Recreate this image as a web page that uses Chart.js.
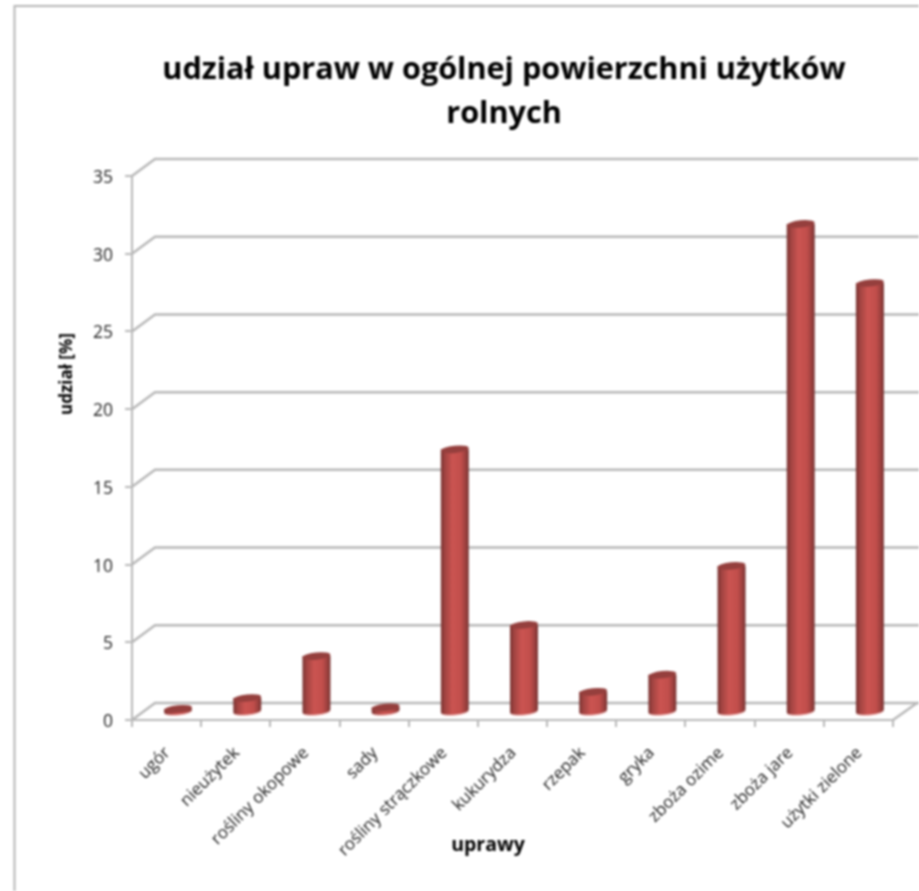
<!DOCTYPE html>
<html>
<head>
<meta charset="utf-8">
<script src="https://cdn.jsdelivr.net/npm/chart.js@4"></script>
<style>
  html, body { margin: 0; padding: 0; background: #fff; }
  #wrap { width: 919px; height: 891px; position: relative; }
  canvas { filter: blur(0.8px); }
</style>
</head>
<body>
<div id="wrap"><canvas id="udzial" width="919" height="891"></canvas></div>
<script>
const categories = ['ugór', 'nieużytek', 'rośliny okopowe', 'sady', 'rośliny strączkowe', 'kukurydza', 'rzepak', 'gryka', 'zboża ozime', 'zboża jare', 'użytki zielone'];
const shares = [0.2, 0.9, 3.6, 0.3, 16.9, 5.6, 1.3, 2.4, 9.4, 31.4, 27.6];
const titleLines = ['udział upraw w ogólnej powierzchni użytków', 'rolnych'];
const xTitle = 'uprawy';
const yTitle = 'udział [%]';
const yTicks = [0, 5, 10, 15, 20, 25, 30, 35];

const FONT = '"Open Sans", sans-serif';
const GRID = '#b8b8b8';
const TEXT = '#222';

// the walls of the fake 3d box
const depthX = 23, depthY = -17;
// bars stand half way into the box
const barX = 11.5, barY = -8;

// cylinder instead of the flat rectangle
Chart.BarElement.prototype.draw = function (ctx) {
  const cx = this.x + barX;
  const top = this.y + barY;
  const base = this.base + barY;
  const rx = this.width / 2, ry = 3.6, tilt = -0.1;

  const side = ctx.createLinearGradient(cx - rx, 0, cx + rx, 0);
  side.addColorStop(0, '#763230');
  side.addColorStop(0.14, '#a04341');
  side.addColorStop(0.42, '#cb5451');
  side.addColorStop(0.72, '#c14e4b');
  side.addColorStop(0.9, '#983f3d');
  side.addColorStop(1, '#73302f');

  ctx.save();
  // base
  ctx.fillStyle = '#f3c9c7';
  ctx.beginPath();
  ctx.ellipse(cx, base + 1.2, rx, ry, tilt, 0, Math.PI * 2);
  ctx.fill();
  ctx.fillStyle = side;
  ctx.beginPath();
  ctx.ellipse(cx, base, rx, ry, tilt, 0, Math.PI);
  ctx.lineTo(cx - rx, top);
  ctx.lineTo(cx + rx, top);
  ctx.closePath();
  ctx.fill();
  // top cap
  ctx.fillStyle = '#953f3d';
  ctx.beginPath();
  ctx.ellipse(cx, top, rx, ry, tilt, 0, Math.PI * 2);
  ctx.fill();
  ctx.restore();
};

const boxPlugin = {
  id: 'box',
  afterLayout(chart) {
    // title sits a bit left of the plot centre
    chart.titleBlock.left = 89;
    chart.titleBlock.right = 919;
  },
  beforeDatasetsDraw(chart) {
    const { ctx, scales } = chart;
    const left = scales.y.left + scales.y.width;
    const right = scales.x.right;
    ctx.save();
    // frame of the picture
    ctx.strokeStyle = '#b5b5b5';
    ctx.lineWidth = 2;
    ctx.beginPath();
    ctx.moveTo(14.5, 891);
    ctx.lineTo(14.5, 6);
    ctx.lineTo(919, 6);
    ctx.stroke();
    // wall lines
    ctx.strokeStyle = GRID;
    ctx.lineWidth = 2.5;
    scales.y.ticks.forEach((t) => {
      const y = scales.y.getPixelForValue(t.value);
      ctx.beginPath();
      ctx.moveTo(left, y);
      ctx.lineTo(left + depthX, y + depthY);
      ctx.lineTo(919, y + depthY);
      ctx.stroke();
    });
    // floor edge on the right
    const y0 = scales.y.getPixelForValue(0);
    ctx.beginPath();
    ctx.moveTo(right, y0);
    ctx.lineTo(right + depthX + 1, y0 + depthY);
    ctx.stroke();
    ctx.restore();
  },
  afterDraw(chart) {
    const { ctx } = chart;
    ctx.save();
    ctx.fillStyle = '#000';
    ctx.textAlign = 'center';
    ctx.textBaseline = 'middle';
    ctx.font = 'bold 19.5px ' + FONT;
    ctx.fillText(xTitle, 488, 845);
    ctx.font = 'bold 17px ' + FONT;
    ctx.translate(67, 374);
    ctx.rotate(-Math.PI / 2);
    ctx.fillText(yTitle, 0, 0);
    ctx.restore();
  }
};

new Chart(document.getElementById('udzial'), {
  type: 'bar',
  data: {
    labels: categories,
    datasets: [{
      label: 'udział',
      data: shares,
      backgroundColor: '#c0504d',
      barThickness: 28
    }]
  },
  plugins: [boxPlugin],
  options: {
    responsive: false,
    animation: false,
    layout: { padding: { right: 26 } },
    plugins: {
      legend: { display: false },
      tooltip: { enabled: false },
      title: {
        display: true,
        text: titleLines,
        color: '#000',
        font: { family: FONT, size: 30.6, weight: 'bold', lineHeight: '44px' },
        padding: { top: 48, bottom: 40 }
      }
    },
    scales: {
      x: {
        afterFit(scale) { scale.height = 171; },
        grid: { drawOnChartArea: false, color: GRID, lineWidth: 2, tickLength: 7, offset: true },
        border: { color: GRID, width: 2 },
        ticks: {
          color: TEXT,
          font: { family: FONT, size: 17 },
          minRotation: 45,
          maxRotation: 45,
          autoSkip: false,
          labelOffset: 1,
          padding: 16
        }
      },
      y: {
        min: 0,
        max: 35,
        afterFit(scale) { scale.width = 132; },
        afterBuildTicks(scale) { scale.ticks = yTicks.map((v) => ({ value: v })); },
        grid: { drawOnChartArea: false, color: GRID, lineWidth: 2, tickLength: 7 },
        border: { color: GRID, width: 2 },
        ticks: {
          color: TEXT,
          font: { family: FONT, size: 17.5 },
          labelOffset: 2,
          padding: 12
        }
      }
    }
  }
});
</script>
</body>
</html>
